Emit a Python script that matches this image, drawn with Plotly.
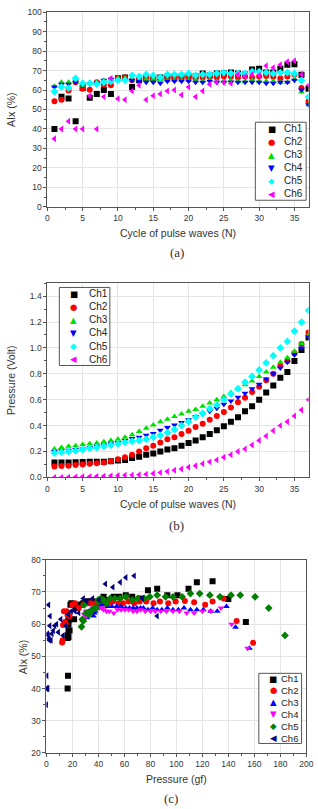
import plotly.graph_objects as go

# ---------------- data ----------------
cycles = list(range(1, 38))
channels = ["Ch1", "Ch2", "Ch3", "Ch4", "Ch5", "Ch6"]

# (a) AIx (%) per cycle
aix_ch1 = [40, 56.5, 55.7, 44, 61, 56, 58, 60, 58, 66, 66.5, 61.5, 65, 66, 66, 66.5, 67, 67, 67, 67, 67,
           68.5, 67.5, 68.5, 68.5, 69, 68.5, 68, 70.5, 71, 69, 69, 71, 73, 73.3, 67.8, 60.7]
aix_ch2 = [54.3, 55, 59.7, 64, 60.7, 60.2, 64, 62.7, 62.5, 66, 66.5, 65, 66, 66.5, 66.5, 66.5, 66.5, 66.5,
           66.5, 67, 66.5, 66.5, 67, 66.5, 67, 67, 66.5, 67, 66.5, 67, 67.2, 66.8, 66, 67, 68, 61, 54.2]
aix_ch3 = [62, 64, 64, 64.5, 62.5, 63.5, 64, 65, 65.5, 66, 66, 65.5, 65.5, 65.5, 65.5, 65, 65, 65, 65, 65,
           65, 64.5, 65, 64.5, 64.5, 65, 64.5, 64.5, 65, 64.5, 64.5, 64.5, 64, 64, 65.5, 59, 52.5]
aix_ch4 = [61.5, 63, 63, 64, 62.5, 63, 63.5, 65, 65.5, 65, 65, 65, 64.5, 64, 64, 63.5, 64.5, 64.5, 64.5,
           64.5, 64, 64, 64.5, 64, 64, 64, 64, 64, 64, 64, 63.5, 63.5, 64, 64, 65, 60, 52.5]
aix_ch5 = [59.2, 61.5, 61, 66, 63.5, 63.5, 63, 64, 64.5, 65, 65, 67.5, 67, 68, 67.5, 66.5, 68, 68, 68, 68.5,
           67.5, 68, 68, 68.5, 69, 68.5, 68.5, 68.5, 69.5, 69.5, 69, 68.5, 69, 69, 68.5, 65, 56.5]
aix_ch6 = [35, 40, 44, 40, 40, 57, 40, 56.5, 66, 55.5, 55, 59.5, 62.5, 55, 57, 58, 59.5, 60, 57.5, 61.5,
           56.5, 59.5, 63, 64, 64, 63.5, 68, 67, 68, 67.5, 72.5, 71.5, 73, 74.5, 75, 68, 62.5]

# (b) Pressure (Volt) per cycle
volt_ch1 = [0.115, 0.115, 0.115, 0.117, 0.118, 0.12, 0.12, 0.12, 0.125, 0.13, 0.135, 0.15, 0.16, 0.175,
            0.185, 0.2, 0.215, 0.225, 0.245, 0.265, 0.285, 0.31, 0.335, 0.365, 0.395, 0.43, 0.465, 0.51,
            0.55, 0.6, 0.655, 0.71, 0.77, 0.815, 0.9, 0.985, 1.08]
volt_ch2 = [0.085, 0.088, 0.09, 0.095, 0.1, 0.105, 0.11, 0.115, 0.125, 0.14, 0.155, 0.175, 0.2, 0.225,
            0.245, 0.27, 0.295, 0.31, 0.335, 0.36, 0.39, 0.415, 0.445, 0.475, 0.505, 0.54, 0.58, 0.615,
            0.66, 0.7, 0.75, 0.8, 0.86, 0.9, 0.96, 1.03, 1.12]
volt_ch3 = [0.22, 0.23, 0.24, 0.245, 0.255, 0.26, 0.265, 0.275, 0.285, 0.295, 0.31, 0.33, 0.355, 0.38,
            0.405, 0.43, 0.45, 0.47, 0.49, 0.51, 0.525, 0.55, 0.575, 0.6, 0.625, 0.655, 0.685, 0.715,
            0.745, 0.78, 0.815, 0.85, 0.89, 0.925, 0.975, 1.035, 1.1]
volt_ch4 = [0.2, 0.205, 0.21, 0.215, 0.22, 0.23, 0.24, 0.25, 0.26, 0.27, 0.285, 0.3, 0.31, 0.325, 0.34,
            0.365, 0.385, 0.405, 0.425, 0.445, 0.47, 0.49, 0.51, 0.535, 0.565, 0.59, 0.62, 0.65, 0.685,
            0.72, 0.76, 0.8, 0.845, 0.89, 0.945, 1.0, 1.085]
volt_ch5 = [0.19, 0.195, 0.2, 0.205, 0.215, 0.225, 0.23, 0.24, 0.25, 0.26, 0.27, 0.28, 0.285, 0.295, 0.31,
            0.325, 0.345, 0.37, 0.4, 0.43, 0.465, 0.495, 0.53, 0.56, 0.6, 0.645, 0.685, 0.735, 0.78, 0.83,
            0.885, 0.94, 1.0, 1.05, 1.13, 1.2, 1.29]
volt_ch6 = [0.0, 0.0, 0.002, 0.003, 0.005, 0.006, 0.008, 0.01, 0.012, 0.014, 0.016, 0.018, 0.02, 0.025,
            0.03, 0.037, 0.045, 0.055, 0.065, 0.078, 0.09, 0.105, 0.12, 0.135, 0.155, 0.175, 0.2, 0.22,
            0.25, 0.285, 0.32, 0.36, 0.4, 0.43, 0.475, 0.52, 0.6]

# (c) Pressure (gf) per cycle
gf_ch1 = [16.3, 16.3, 16.3, 16.6, 16.8, 17.0, 17.0, 17.0, 17.8, 18.5, 19.2, 21.3, 22.7, 24.9, 26.3, 28.4,
          30.5, 32.0, 34.8, 37.6, 40.5, 44.0, 47.6, 51.8, 56.1, 61.1, 66.0, 72.4, 78.1, 85.2, 93.0, 100.8,
          109.3, 115.7, 127.8, 139.9, 153.4]
gf_ch2 = [12.1, 12.5, 12.8, 13.5, 14.2, 14.9, 15.6, 16.3, 17.8, 19.9, 22.0, 24.9, 28.4, 32.0, 34.8, 38.3,
          41.9, 44.0, 47.6, 51.1, 55.4, 58.9, 63.2, 67.5, 71.7, 76.7, 82.4, 87.3, 93.7, 99.4, 106.5, 113.6,
          122.1, 127.8, 136.3, 146.3, 159.0]
gf_ch3 = [31.2, 32.7, 34.1, 34.8, 36.2, 36.9, 37.6, 39.1, 40.5, 41.9, 44.0, 46.9, 50.4, 54.0, 57.5, 61.1,
          63.9, 66.7, 69.6, 72.4, 74.6, 78.1, 81.7, 85.2, 88.8, 93.0, 97.3, 101.5, 105.8, 110.8, 115.7,
          120.7, 126.4, 131.4, 138.5, 145.5, 156.2]
gf_ch4 = [28.4, 29.1, 29.8, 30.5, 31.2, 32.7, 34.1, 35.5, 36.9, 38.3, 40.5, 42.6, 44.0, 46.2, 48.3, 51.8,
          54.7, 57.5, 60.4, 63.2, 66.7, 69.6, 72.4, 76.0, 80.2, 83.8, 88.0, 92.3, 97.3, 102.2, 107.9, 113.6,
          120.0, 126.4, 134.2, 142.5, 154.8]
gf_ch5 = [27.0, 27.7, 28.4, 29.1, 30.5, 32.0, 32.7, 34.1, 35.5, 36.9, 38.3, 39.8, 40.5, 41.9, 44.0, 46.2,
          49.0, 52.5, 56.8, 61.1, 66.0, 70.3, 75.3, 79.5, 85.2, 91.6, 97.3, 104.4, 110.8, 117.9, 125.7,
          133.5, 142.0, 149.1, 160.5, 171.0, 183.5]
gf_ch6 = [0.0, 0.0, 0.3, 0.4, 0.7, 0.9, 1.1, 1.4, 1.7, 2.0, 2.3, 2.6, 2.8, 3.6, 4.3, 5.3, 6.4, 7.8, 9.2,
          11.1, 12.8, 14.9, 17.0, 19.2, 22.0, 24.9, 28.4, 31.2, 35.5, 40.5, 45.4, 51.1, 56.8, 61.1, 67.5,
          73.8, 85.2]

aix_all = [aix_ch1, aix_ch2, aix_ch3, aix_ch4, aix_ch5, aix_ch6]
volt_all = [volt_ch1, volt_ch2, volt_ch3, volt_ch4, volt_ch5, volt_ch6]
gf_all = [gf_ch1, gf_ch2, gf_ch3, gf_ch4, gf_ch5, gf_ch6]

# ---------------- styles ----------------
symbols = ["square", "circle", "triangle-up", "triangle-down", "diamond", "triangle-left"]
glyphs = ["\u25A0", "\u25CF", "\u25B2", "\u25BC", "\u25C6", "\u25C0"]
colors_ab = ["#000000", "#ff0000", "#00e000", "#0000ff", "#00ffff", "#ff00ff"]
colors_c = ["#000000", "#ff0000", "#0000ff", "#ff00ff", "#008000", "#000080"]
FONT = "Liberation Sans, Arial, sans-serif"

fig = go.Figure()
for i, ch in enumerate(channels):
    fig.add_trace(go.Scatter(x=cycles, y=aix_all[i], mode="markers", name=ch,
                             marker=dict(symbol=symbols[i], color=colors_ab[i], size=6),
                             xaxis="x", yaxis="y"))
for i, ch in enumerate(channels):
    fig.add_trace(go.Scatter(x=cycles, y=volt_all[i], mode="markers", name=ch,
                             marker=dict(symbol=symbols[i], color=colors_ab[i], size=6),
                             xaxis="x2", yaxis="y2"))
for i, ch in enumerate(channels):
    fig.add_trace(go.Scatter(x=gf_all[i], y=aix_all[i], mode="markers", name=ch,
                             marker=dict(symbol=symbols[i], color=colors_c[i], size=6),
                             xaxis="x3", yaxis="y3"))

W, H = 318, 809


def px_x(p):
    return p / W


def px_y(p):
    return 1 - p / H


axis_common = dict(showline=True, linecolor="#555555", linewidth=1, mirror=True,
                   showgrid=True, gridcolor="#e4e4e4", gridwidth=1, zeroline=False,
                   ticks="outside", ticklen=3, tickcolor="#555555",
                   tickfont=dict(family=FONT, size=8.5, color="#333333"))
minor = dict(ticks="outside", ticklen=2, tickcolor="#555555", showgrid=False)

fig.update_layout(
    width=W, height=H, margin=dict(l=0, r=0, t=0, b=0),
    paper_bgcolor="white", plot_bgcolor="white",
    font=dict(family=FONT, color="#222222"),
    showlegend=False,
    xaxis=dict(axis_common, domain=[px_x(46.7), px_x(315.5)], range=[0, 37], dtick=5, tick0=0,
               minor=dict(minor, dtick=2.5), anchor="y"),
    yaxis=dict(axis_common, domain=[px_y(204.3), px_y(7.3)], range=[0, 100], dtick=10,
               minor=dict(minor, dtick=5), anchor="x"),
    xaxis2=dict(axis_common, domain=[px_x(46.7), px_x(315.5)], range=[0, 37], dtick=5, tick0=0,
                minor=dict(minor, dtick=2.5), anchor="y2"),
    yaxis2=dict(axis_common, domain=[px_y(478.3), px_y(281.7)], range=[0, 1.5], dtick=0.2,
                tickformat=".1f", minor=dict(minor, dtick=0.1), anchor="x2"),
    xaxis3=dict(axis_common, domain=[px_x(45.7), px_x(313.3)], range=[0, 200], dtick=20,
                minor=dict(minor, dtick=10), anchor="y3", ticklabeloverflow="allow"),
    yaxis3=dict(axis_common, domain=[px_y(757.3), px_y(561.7)], range=[20, 80], dtick=10,
                minor=dict(minor, dtick=5), anchor="x3"),
)

title_font = dict(family=FONT, size=10.5, color="#333333")
cap_font = dict(family="Liberation Serif, Times New Roman, serif", size=13, color="#333333")
annots = [
    dict(text="Cycle of pulse waves (N)", x=px_x(181), y=px_y(230.7)),
    dict(text="AIx (%)", x=px_x(8.5), y=px_y(106), textangle=-90),
    dict(text="Cycle of pulse waves (N)", x=px_x(181), y=px_y(505.7)),
    dict(text="Pressure (Volt)", x=px_x(10), y=px_y(380), textangle=-90),
    dict(text="Pressure (gf)", x=px_x(180), y=px_y(784)),
    dict(text="AIx (%)", x=px_x(21), y=px_y(660), textangle=-90),
]
for a in annots:
    fig.add_annotation(xref="paper", yref="paper", showarrow=False, xanchor="center",
                       yanchor="middle", font=title_font, **a)
for txt, xx, yy in [("(a)", 180, 251), ("(b)", 180, 527), ("(c)", 174, 803)]:
    fig.add_annotation(text=txt, xref="paper", yref="paper", x=px_x(xx), y=px_y(yy),
                       showarrow=False, xanchor="center", yanchor="middle", font=cap_font)


# ---------------- legends (frame + one symbol and one label per entry) ----------------
def add_legend(x0, x1, y0, y1, sym_x, txt_x, colors, fsize, gap):
    fig.add_shape(type="rect", xref="paper", yref="paper",
                  x0=px_x(x0), x1=px_x(x1), y0=px_y(y1), y1=px_y(y0),
                  line=dict(color="#555555", width=1), fillcolor="white", layer="above")
    yc = (y0 + y1) / 2
    for k, (ch, g, c) in enumerate(zip(channels, glyphs, colors)):
        yy = yc + (k - 2.5) * gap
        fig.add_annotation(text=g, xref="paper", yref="paper", x=px_x(sym_x), y=px_y(yy),
                           xanchor="center", yanchor="middle", showarrow=False,
                           font=dict(family="DejaVu Sans", size=8.5, color=c), borderpad=0)
        fig.add_annotation(text=ch, xref="paper", yref="paper", x=px_x(txt_x), y=px_y(yy),
                           xanchor="left", yanchor="middle", showarrow=False,
                           font=dict(family=FONT, size=fsize, color="#222222"), borderpad=0)


add_legend(260.7, 313, 118.7, 197.7, 277.5, 289, colors_ab, 10, 13.1)
add_legend(59, 111, 286, 365, 74, 88, colors_ab, 10, 13.2)
add_legend(264.3, 308.3, 676.7, 747.7, 279.3, 286.5, colors_c, 9.5, 12.1)

fig.write_html("out.html")
